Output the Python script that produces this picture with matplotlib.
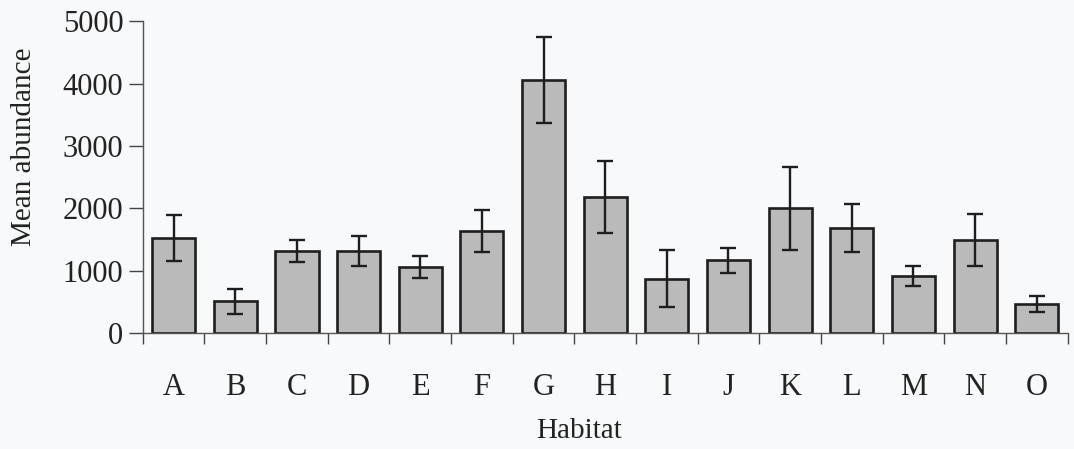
import numpy as np
import matplotlib
matplotlib.use("Agg")
import matplotlib.pyplot as plt

plt.rcParams['font.family'] = ['Liberation Serif', 'DejaVu Serif']

habitats = ['A', 'B', 'C', 'D', 'E', 'F', 'G', 'H', 'I', 'J', 'K', 'L', 'M', 'N', 'O']
mean_abund = [1530, 510, 1310, 1310, 1060, 1640, 4060, 2180, 875, 1165, 2000, 1680, 910, 1490, 465]
se_abund = [370, 200, 175, 240, 170, 335, 690, 575, 450, 195, 670, 385, 160, 420, 130]

fig = plt.figure(figsize=(10.74, 4.49), dpi=100, facecolor='#f8f9fa')
ax = fig.add_axes([0.133, 0.258, 0.861, 0.695])
ax.set_facecolor('none')

x = np.arange(len(habitats))
ax.bar(x, mean_abund, width=0.7, color='#bababa', edgecolor='#1e1e1e', linewidth=1.9,
       yerr=se_abund, error_kw=dict(ecolor='#1e1e1e', elinewidth=1.7, capsize=6, capthick=1.7))

ax.set_xlim(-0.5, len(habitats) - 0.5)
ax.set_ylim(0, 5000)
ax.set_yticks([0, 1000, 2000, 3000, 4000, 5000])

# ticks at category boundaries, labels at centres
ax.set_xticks(np.arange(len(habitats) + 1) - 0.5)
ax.set_xticklabels([])
ax.set_xticks(x, minor=True)
ax.set_xticklabels(habitats, minor=True)
ax.tick_params(axis='x', which='major', direction='out', length=8, width=1, color='#444444')
ax.tick_params(axis='x', which='minor', length=0, pad=29, labelsize=22, labelcolor='#222222')
ax.tick_params(axis='y', direction='out', length=10, width=1, color='#444444',
               labelsize=22, labelcolor='#222222', pad=4)

for s in ['top', 'right']:
    ax.spines[s].set_visible(False)
for s in ['left', 'bottom']:
    ax.spines[s].set_color('#555555')
    ax.spines[s].set_linewidth(1)

ax.set_ylabel('Mean abundance', fontsize=21, color='#222222')
ax.yaxis.set_label_coords(-0.114, 0.596)
ax.set_xlabel('Habitat', fontsize=21, color='#222222')
ax.xaxis.set_label_coords(0.472, -0.272)

fig.savefig('out.png', dpi=100, facecolor=fig.get_facecolor())
